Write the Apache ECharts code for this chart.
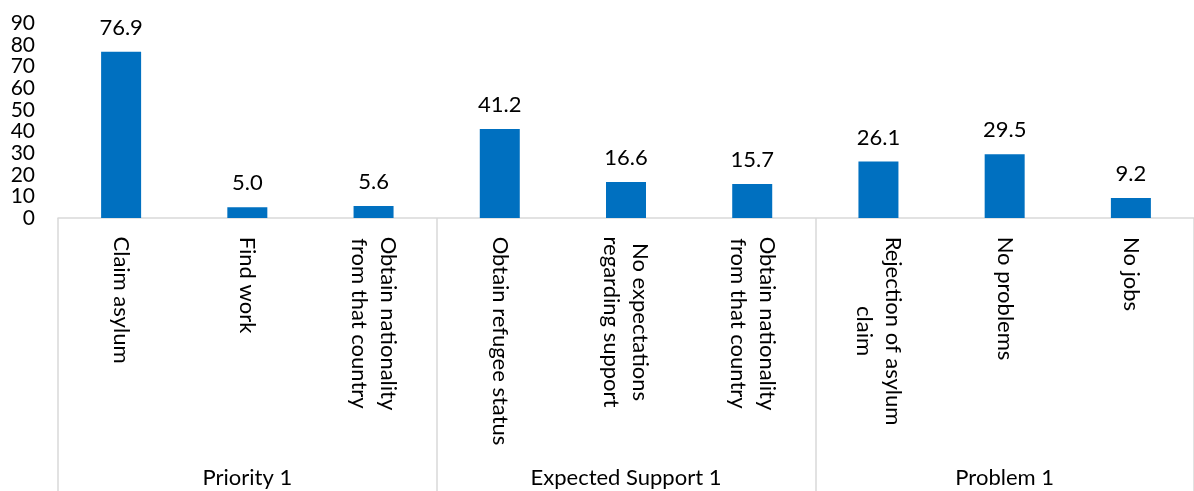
<!DOCTYPE html>
<html>
<head>
<meta charset="utf-8">
<script src="https://cdn.jsdelivr.net/npm/echarts@6/dist/echarts.min.js"></script>
<style>
html,body{margin:0;padding:0;background:#fff;}
#chart{width:1194px;height:491px;}
</style>
</head>
<body>
<div id="chart"></div>
<script>
const categories = [
  "Claim asylum",
  "Find work",
  "Obtain nationality\nfrom that country",
  "Obtain refugee status",
  "No expectations\nregarding support",
  "Obtain nationality\nfrom that country",
  "Rejection of asylum\nclaim",
  "No problems",
  "No jobs"
];
const values = [76.9, 5.0, 5.6, 41.2, 16.6, 15.7, 26.1, 29.5, 9.2];
const groups = ["Priority 1", "Expected Support 1", "Problem 1"];
const yTicks = { min: 0, max: 90, interval: 10 };

const FONT = 'Lato';
const FS = 22;
const ctx = document.createElement('canvas').getContext('2d');
ctx.font = FS + 'px ' + FONT;
const rich = {};
categories.forEach((c, i) => {
  const w = Math.max(...c.split('\n').map(l => ctx.measureText(l).width));
  rich['w' + i] = { width: Math.ceil(w) + 1, align: 'center', fontSize: FS, fontFamily: FONT, color: '#000', lineHeight: 29 };
});

const chart = echarts.init(document.getElementById('chart'), null, { renderer: 'canvas' });
chart.setOption({
  animation: false,
  grid: { left: 58, right: -11, top: 23.4, bottom: 273, containLabel: false },
  xAxis: [
    {
      type: 'category',
      data: categories.map((c, i) => 'c' + i),
      axisLine: { show: true, lineStyle: { color: '#d9d9d9', width: 1.5 } },
      axisTick: { show: false },
      axisLabel: {
        interval: 0,
        rotate: -90,
        margin: 18,
        rich: rich,
        formatter: (v, idx) => categories[idx].split('\n').map(l => '{w' + idx + '|' + l + '}').join('\n')
      }
    },
    {
      type: 'category',
      position: 'bottom',
      offset: 0,
      data: groups,
      axisLine: { show: false },
      axisTick: { show: true, length: 273, lineStyle: { color: '#d9d9d9', width: 1.5 } },
      axisLabel: { interval: 0, margin: 249, fontSize: FS, fontFamily: FONT, color: '#000' }
    }
  ],
  yAxis: {
    type: 'value',
    min: yTicks.min, max: yTicks.max, interval: yTicks.interval,
    axisLine: { show: false },
    axisTick: { show: false },
    splitLine: { show: false },
    axisLabel: {
      margin: 23, fontSize: 21, fontFamily: FONT, color: '#000',
      showMinLabel: true, showMaxLabel: true, hideOverlap: false, lineHeight: 16,
      padding: [3, 0, 0, 0]
    }
  },
  series: [{
    type: 'bar',
    xAxisIndex: 0,
    data: values,
    barWidth: 40,
    itemStyle: { color: '#0070C0' },
    label: {
      show: true, position: 'top', distance: 13,
      fontSize: FS, fontFamily: FONT, color: '#000',
      formatter: p => p.value.toFixed(1)
    }
  }]
});
</script>
</body>
</html>
